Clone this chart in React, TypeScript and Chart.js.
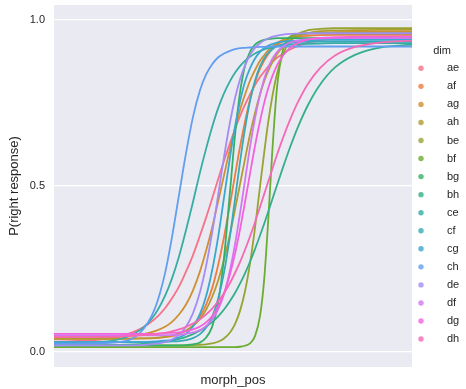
import React, { useEffect, useRef } from "react";
import { Chart, registerables } from "chart.js";

Chart.register(...registerables);

const dims = ["ae", "af", "ag", "ah", "be", "bf", "bg", "bh", "ce", "cf", "cg", "ch", "de", "df", "dg", "dh"];
const colors = [
  "#f77189", "#ee7c3e", "#ce9032", "#b39b31", "#97a431", "#6aad31", "#32b166", "#34af89",
  "#36ada4", "#37aab8", "#39a7d0", "#619ef0", "#a48cf4", "#d277f2", "#f561dd", "#f669b4",
];

const morphPos = [0, 56, 86, 101, 111, 118, 125, 132, 139, 146, 152, 158, 164, 170, 176, 181, 186, 191, 196, 201, 206, 210, 214, 218, 223, 229, 236, 244, 254, 266, 281, 301, 326, 358];

const ae = [0.031, 0.041, 0.069, 0.100, 0.132, 0.162, 0.197, 0.242, 0.292, 0.351, 0.404, 0.461, 0.519, 0.576, 0.629, 0.671, 0.710, 0.745, 0.776, 0.804, 0.828, 0.844, 0.859, 0.872, 0.886, 0.898, 0.911, 0.922, 0.932, 0.939, 0.944, 0.947, 0.949, 0.95];
const af = [0.04, 0.04, 0.041, 0.042, 0.045, 0.048, 0.054, 0.064, 0.080, 0.107, 0.142, 0.191, 0.260, 0.346, 0.445, 0.532, 0.618, 0.694, 0.760, 0.812, 0.853, 0.877, 0.896, 0.912, 0.925, 0.936, 0.944, 0.949, 0.952, 0.954, 0.955, 0.955, 0.955, 0.955];
const ag = [0.045, 0.046, 0.052, 0.063, 0.076, 0.091, 0.113, 0.143, 0.186, 0.243, 0.304, 0.373, 0.452, 0.532, 0.612, 0.672, 0.729, 0.775, 0.817, 0.849, 0.877, 0.893, 0.908, 0.919, 0.930, 0.940, 0.948, 0.955, 0.959, 0.962, 0.963, 0.964, 0.965, 0.965];
const ah = [0.04, 0.04, 0.041, 0.043, 0.046, 0.050, 0.056, 0.065, 0.079, 0.100, 0.127, 0.165, 0.214, 0.278, 0.355, 0.429, 0.505, 0.581, 0.655, 0.720, 0.776, 0.814, 0.845, 0.871, 0.897, 0.920, 0.938, 0.951, 0.960, 0.966, 0.968, 0.969, 0.97, 0.97];
const be = [0.02, 0.02, 0.02, 0.02, 0.02, 0.02, 0.02, 0.02, 0.021, 0.022, 0.023, 0.026, 0.031, 0.041, 0.059, 0.084, 0.124, 0.183, 0.267, 0.374, 0.498, 0.596, 0.688, 0.764, 0.838, 0.897, 0.936, 0.958, 0.969, 0.973, 0.975, 0.975, 0.975, 0.975];
const bf = [0.015, 0.015, 0.015, 0.015, 0.015, 0.015, 0.015, 0.015, 0.015, 0.015, 0.015, 0.015, 0.015, 0.015, 0.015, 0.015, 0.016, 0.019, 0.026, 0.048, 0.108, 0.212, 0.385, 0.590, 0.796, 0.910, 0.949, 0.958, 0.96, 0.96, 0.96, 0.96, 0.96, 0.96];
const bg = [0.02, 0.02, 0.02, 0.02, 0.02, 0.02, 0.02, 0.021, 0.023, 0.029, 0.043, 0.075, 0.146, 0.284, 0.483, 0.652, 0.781, 0.862, 0.904, 0.926, 0.936, 0.940, 0.942, 0.944, 0.945, 0.945, 0.945, 0.945, 0.945, 0.945, 0.945, 0.945, 0.945, 0.945];
const bh = [0.020, 0.021, 0.024, 0.028, 0.031, 0.035, 0.040, 0.046, 0.054, 0.065, 0.076, 0.090, 0.107, 0.128, 0.154, 0.178, 0.206, 0.237, 0.272, 0.310, 0.351, 0.385, 0.420, 0.457, 0.502, 0.556, 0.616, 0.678, 0.744, 0.805, 0.857, 0.895, 0.917, 0.926];
const ce = [0.025, 0.033, 0.066, 0.114, 0.169, 0.222, 0.288, 0.367, 0.452, 0.541, 0.611, 0.676, 0.733, 0.779, 0.816, 0.841, 0.861, 0.877, 0.889, 0.899, 0.906, 0.911, 0.915, 0.917, 0.921, 0.924, 0.926, 0.927, 0.928, 0.929, 0.93, 0.93, 0.93, 0.93];
const cf = [0.03, 0.03, 0.03, 0.03, 0.031, 0.032, 0.033, 0.036, 0.042, 0.054, 0.073, 0.105, 0.159, 0.239, 0.350, 0.460, 0.572, 0.673, 0.756, 0.817, 0.860, 0.883, 0.900, 0.911, 0.921, 0.927, 0.931, 0.933, 0.934, 0.935, 0.935, 0.935, 0.935, 0.935];
const cg = [0.03, 0.03, 0.03, 0.032, 0.034, 0.037, 0.044, 0.055, 0.077, 0.115, 0.167, 0.244, 0.344, 0.465, 0.586, 0.679, 0.754, 0.814, 0.854, 0.884, 0.904, 0.915, 0.922, 0.927, 0.932, 0.935, 0.937, 0.938, 0.939, 0.94, 0.94, 0.94, 0.94, 0.94];
const ch = [0.025, 0.028, 0.058, 0.132, 0.237, 0.346, 0.473, 0.599, 0.708, 0.788, 0.835, 0.866, 0.887, 0.899, 0.907, 0.912, 0.915, 0.916, 0.917, 0.918, 0.919, 0.919, 0.919, 0.92, 0.92, 0.92, 0.92, 0.92, 0.92, 0.92, 0.92, 0.92, 0.92, 0.92];
const de = [0.02, 0.02, 0.021, 0.025, 0.030, 0.038, 0.052, 0.076, 0.117, 0.181, 0.258, 0.357, 0.470, 0.587, 0.692, 0.764, 0.821, 0.863, 0.894, 0.916, 0.930, 0.938, 0.944, 0.949, 0.953, 0.956, 0.958, 0.959, 0.96, 0.96, 0.96, 0.96, 0.96, 0.96];
const df = [0.05, 0.05, 0.05, 0.05, 0.051, 0.051, 0.052, 0.055, 0.059, 0.066, 0.078, 0.097, 0.127, 0.174, 0.246, 0.324, 0.417, 0.517, 0.617, 0.704, 0.775, 0.821, 0.854, 0.881, 0.903, 0.920, 0.932, 0.938, 0.942, 0.944, 0.945, 0.945, 0.945, 0.945];
const dg = [0.055, 0.055, 0.055, 0.055, 0.057, 0.058, 0.059, 0.063, 0.068, 0.077, 0.089, 0.108, 0.136, 0.177, 0.235, 0.296, 0.369, 0.451, 0.537, 0.621, 0.695, 0.748, 0.792, 0.828, 0.863, 0.893, 0.916, 0.931, 0.941, 0.946, 0.948, 0.949, 0.95, 0.95];
const dh = [0.045, 0.046, 0.050, 0.054, 0.058, 0.062, 0.068, 0.076, 0.086, 0.099, 0.113, 0.130, 0.152, 0.177, 0.208, 0.238, 0.271, 0.308, 0.348, 0.391, 0.437, 0.474, 0.511, 0.548, 0.594, 0.645, 0.699, 0.753, 0.808, 0.855, 0.893, 0.919, 0.932, 0.938];

const yTicks = [0, 0.5, 1.0];

const FONT = '"Liberation Sans", Arial, sans-serif';
const TEXT = "#262626";

export default function App() {
  const ref = useRef<HTMLCanvasElement>(null);

  useEffect(() => {
    const canvas = ref.current;
    if (!canvas) return;
    const series = [ae, af, ag, ah, be, bf, bg, bh, ce, cf, cg, ch, de, df, dg, dh];
    const datasets = dims.map((d, i) => ({
      label: d,
      data: morphPos.map((x, j) => ({ x, y: series[i][j] })),
      borderColor: colors[i],
      backgroundColor: colors[i],
      borderWidth: 1.8,
      pointRadius: 0,
      pointHoverRadius: 0,
      cubicInterpolationMode: "monotone" as const,
      fill: false,
      order: dims.length - i,
    }));

    const bgPlugin = {
      id: "bgPlugin",
      beforeDraw(chart: any) {
        const { ctx, chartArea } = chart;
        ctx.save();
        ctx.fillStyle = "#fff";
        ctx.fillRect(0, 0, chart.width, chart.height);
        ctx.fillStyle = "#eaeaf2";
        ctx.fillRect(chartArea.left, chartArea.top, chartArea.right - chartArea.left, chartArea.bottom - chartArea.top);
        ctx.restore();
      },
    };

    const legendPlugin = {
      id: "sideLegend",
      afterDraw(chart: any) {
        const ctx = chart.ctx;
        ctx.save();
        ctx.font = `11px ${FONT}`;
        ctx.fillStyle = TEXT;
        ctx.textAlign = "center";
        ctx.textBaseline = "middle";
        ctx.fillText("dim", 442, 51);
        dims.forEach((d, i) => {
          const y = 68.3 + 18.05 * i;
          ctx.globalAlpha = 0.8;
          ctx.beginPath();
          ctx.arc(421, y, 2.7, 0, Math.PI * 2);
          ctx.fillStyle = colors[i];
          ctx.fill();
          ctx.globalAlpha = 1;
          ctx.fillStyle = TEXT;
          ctx.textAlign = "left";
          ctx.fillText(d, 447, y);
        });
        ctx.restore();
      },
    };

    const chart = new Chart(canvas, {
      type: "line",
      data: { datasets },
      plugins: [bgPlugin, legendPlugin],
      options: {
        animation: false,
        responsive: false,
        devicePixelRatio: 1,
        layout: { padding: { left: 0, right: 54, top: 5, bottom: 0 } },
        plugins: {
          legend: { display: false },
          tooltip: { enabled: false },
        },
        scales: {
          x: {
            type: "linear",
            min: 0,
            max: 358,
            grid: { display: false },
            border: { display: false },
            ticks: { display: false },
            title: {
              display: true,
              text: "morph_pos",
              color: TEXT,
              font: { family: FONT, size: 13 },
              padding: { top: 0, bottom: 1 },
            },
            afterFit(scale: any) {
              scale.height = 22;
              scale.paddingLeft = 0;
              scale.paddingRight = 0;
            },
          },
          y: {
            type: "linear",
            min: -0.045,
            max: 1.045,
            grid: { color: "#ffffff", lineWidth: 1.2, drawTicks: false },
            border: { display: false },
            ticks: {
              color: TEXT,
              padding: 9,
              font: { family: FONT, size: 11 },
              callback: (v: any) => Number(v).toFixed(1),
            },
            afterBuildTicks(scale: any) {
              scale.ticks = yTicks.map((v) => ({ value: v }));
            },
            title: {
              display: true,
              text: "P(right response)",
              color: TEXT,
              font: { family: FONT, size: 13 },
              padding: { top: 7, bottom: 0 },
            },
            afterFit(scale: any) {
              scale.width = 54;
              scale.paddingTop = 0;
              scale.paddingBottom = 0;
            },
          },
        },
      },
    } as any);

    return () => chart.destroy();
  }, []);

  return (
    <div style={{ position: "fixed", left: 0, top: 0, width: 466, height: 389, background: "#fff" }}>
      <canvas ref={ref} width={466} height={389} style={{ display: "block", width: 466, height: 389 }} />
    </div>
  );
}
